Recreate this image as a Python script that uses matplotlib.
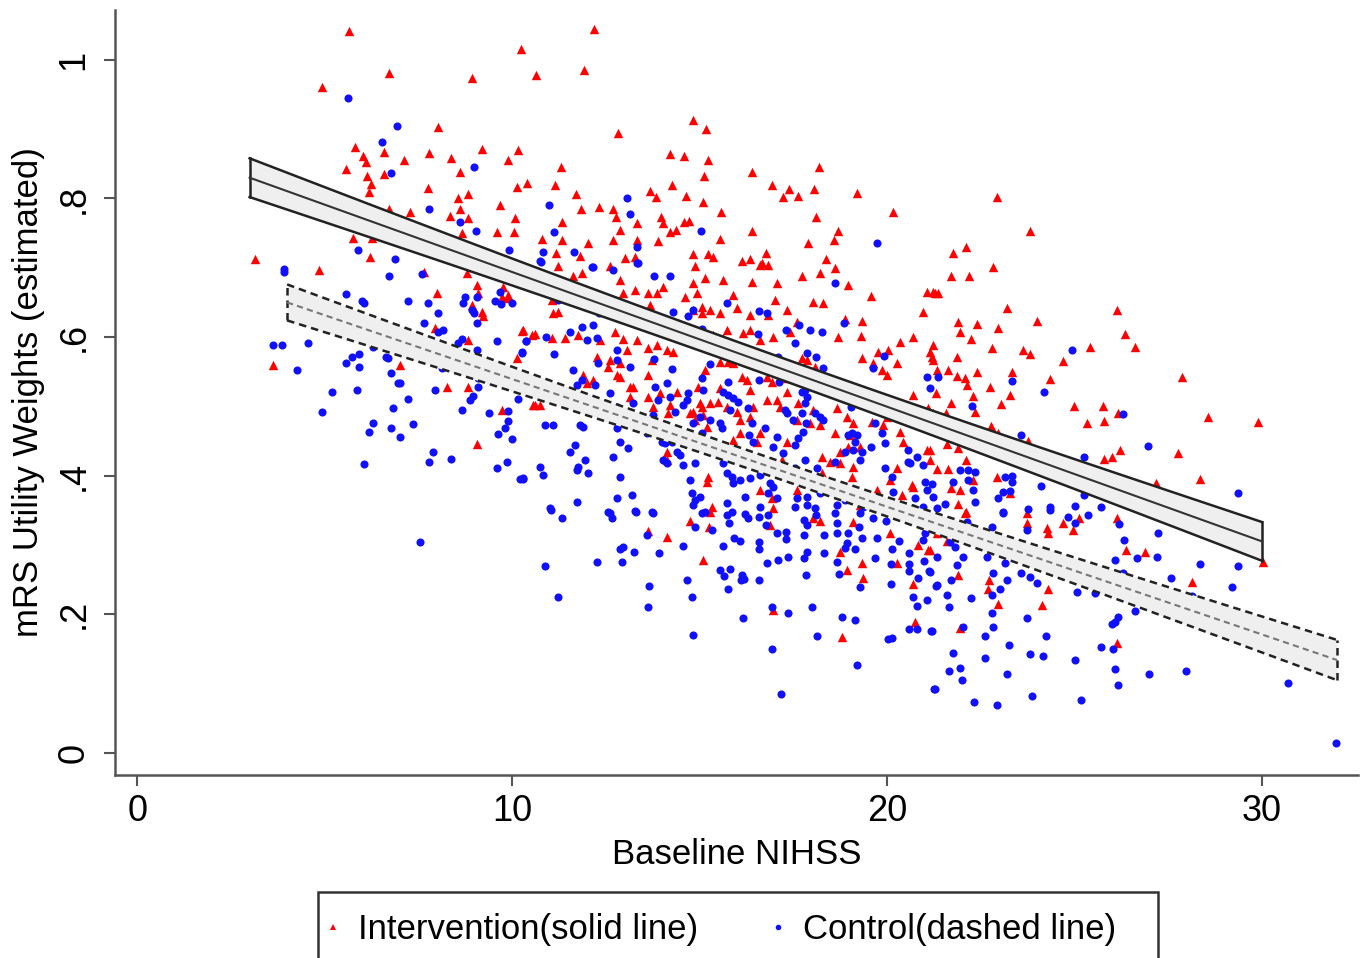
import numpy as np
import matplotlib
matplotlib.use("Agg")
import matplotlib.pyplot as plt
from matplotlib.lines import Line2D
from matplotlib.patches import Rectangle

plt.rcParams['font.family'] = ['Liberation Sans', 'DejaVu Sans']

# (baseline NIHSS, estimated mRS utility weight) per patient
intervention = np.array([
    (5.81, .874), (6.03, .861), (6.11, .853), (6.59, .867), (6.13, .833), (6.24, .821), (6.19, .810),
    (6.59, .835), (5.57, .843), (7.12, .856), (7.79, .866), (8.37, .859), (8.61, .838), (9.20, .872),
    (9.89, .856), (10.16, .870), (7.76, .815), (8.56, .801), (8.83, .807), (8.61, .785), (8.35, .775),
    (8.83, .772), (9.68, .791), (10.08, .772), (10.13, .817), (10.40, .823), (9.60, .752), (10.05, .752),
    (8.67, .750), (7.28, .781), (6.72, .785), (5.76, .743), (6.27, .743), (6.21, .716), (3.15, .713),
    (8.03, .903), (8.93, .974), (10.24, 1.016), (6.72, .981), (4.93, .961), (5.65, 1.042),
    (12.19, 1.045), (10.64, .978), (11.92, .986), (14.83, .913), (15.17, .900), (12.83, .895),
    (14.21, .864), (14.59, .861), (15.23, .856), (15.12, .833), (11.31, .846), (11.15, .820),
    (11.71, .807), (11.84, .785), (12.32, .788), (12.69, .785), (12.77, .773), (11.33, .766),
    (12.88, .755), (13.33, .765), (13.68, .811), (13.84, .802), (14.27, .820), (14.64, .804),
    (15.09, .795), (15.57, .781), (13.97, .773), (14.03, .765), (14.21, .752), (14.37, .755),
    (14.59, .766), (14.72, .768), (16.40, .838), (16.93, .820), (17.23, .802), (17.39, .814),
    (17.63, .804), (18.05, .814), (18.19, .846), (19.20, .808), (20.16, .781), (18.11, .773),
    (16.40, .753), (18.69, .753), (18.59, .740), (17.89, .736), (10.80, .742), (11.33, .740),
    (12.03, .736), (12.69, .740), (13.33, .740), (13.89, .739), (15.55, .742), (11.17, .722),
    (11.81, .717), (13.01, .714), (13.28, .716), (14.83, .720), (15.23, .720), (15.36, .716),
    (16.13, .710), (16.35, .713), (16.77, .722), (16.67, .707), (18.37, .713),
    (22.93, .802), (23.81, .753), (21.76, .722), (22.11, .730),
    (22.83, .701), (21.71, .688), (22.19, .688), (21.23, .665), (21.36, .664), (23.20, .642),
    (24.00, .623), (21.89, .622), (22.40, .619), (22.96, .613), (21.95, .607), (22.24, .597),
    (21.23, .589), (22.80, .584), (23.63, .582), (23.81, .576), (25.41, .586), (26.13, .639),
    (26.35, .605), (26.61, .586), (24.69, .566), (21.20, .571), (21.87, .571), (21.33, .553),
    (21.63, .553), (22.40, .550), (23.33, .550), (21.87, .544), (22.08, .541), (22.13, .531),
    (22.75, .528), (24.35, .540), (27.87, .543), (21.31, .519), (22.29, .515), (23.28, .517),
    (21.71, .505), (23.04, .504), (22.35, .492), (21.57, .491), (24.99, .501), (25.76, .501),
    (25.33, .476), (25.79, .479), (26.16, .491), (28.56, .485), (29.89, .478), (22.77, .472),
    (22.96, .462), (23.76, .450), (21.60, .446), (21.89, .440), (21.15, .437), (22.11, .423),
    (21.33, .410), (21.63, .410), (22.29, .394), (22.93, .398), (21.95, .380), (21.71, .382),
    (23.28, .375), (21.89, .359), (26.21, .437), (25.79, .424), (26.00, .427), (27.76, .433),
    (27.17, .390), (28.35, .395), (22.11, .348),
    (22.08, .346), (23.73, .346), (23.73, .332), (24.27, .325), (24.29, .317), (24.69, .332),
    (24.96, .322), (25.12, .339), (26.13, .339), (21.33, .317), (21.60, .306), (21.15, .293),
    (21.89, .257), (22.72, .250), (22.69, .237), (22.96, .215), (24.29, .237), (24.13, .214),
    (21.95, .180), (26.13, .159), (26.37, .293), (26.88, .290), (28.13, .247), (30.03, .276),
    (11.23, .703), (11.87, .693), (11.63, .688), (12.61, .703), (12.88, .683), (13.28, .668),
    (13.63, .664), (13.87, .664), (14.03, .672), (12.96, .664), (11.07, .654), (11.23, .636),
    (11.09, .635), (13.68, .646), (14.61, .658), (14.83, .678), (14.93, .664), (15.07, .644),
    (15.15, .685), (14.88, .703), (15.63, .683), (15.89, .661), (16.40, .680), (16.61, .704),
    (16.83, .704), (17.07, .678), (17.01, .654), (15.55, .635), (15.28, .639), (15.07, .635),
    (14.83, .639), (16.00, .642), (16.35, .632), (16.83, .632), (17.33, .639), (17.73, .688),
    (18.21, .693), (18.61, .700), (18.96, .675), (18.03, .651), (18.29, .649), (19.57, .659),
    (18.88, .626), (19.33, .623), (19.31, .602), (18.69, .600), (20.35, .593), (20.69, .600),
    (20.96, .636), (21.07, .665), (21.28, .664), (17.60, .622), (17.41, .608), (16.96, .600),
    (16.61, .596), (16.35, .610), (16.16, .606), (15.73, .610), (15.63, .599), (15.36, .603),
    (15.15, .589), (10.29, .610), (10.61, .605), (11.07, .599), (11.41, .599), (11.76, .603),
    (12.75, .608), (12.35, .596), (12.96, .597), (13.33, .596), (13.07, .582), (13.63, .584),
    (13.87, .589), (14.13, .582), (14.29, .579), (13.73, .567), (12.27, .571), (12.56, .557),
    (12.88, .563), (12.80, .545), (12.88, .543), (12.61, .567), (12.16, .538), (13.23, .528),
    (13.63, .545), (15.15, .553), (15.55, .564), (15.76, .564), (15.89, .563), (16.13, .543),
    (16.27, .538), (16.80, .543), (16.93, .535), (17.33, .541), (17.73, .570), (17.87, .567),
    (18.08, .557), (17.81, .553), (16.80, .564), (19.33, .570), (19.63, .563), (19.87, .553),
    (20.00, .545), (20.27, .563), (19.76, .579), (20.03, .582), (21.15, .579), (21.23, .567),
    (20.69, .517), (21.09, .498), (21.23, .491), (20.00, .485), (19.89, .473), (20.35, .463),
    (19.60, .478), (18.67, .498), (18.93, .485), (19.09, .476), (19.01, .459), (18.61, .462),
    (18.21, .473), (18.03, .495), (17.63, .505), (17.33, .521), (17.07, .509), (16.80, .509),
    (16.43, .499), (16.35, .485), (16.08, .481), (16.00, .492), (15.73, .499), (15.28, .505),
    (15.07, .499), (14.75, .491), (14.88, .481), (17.60, .481), (17.95, .476), (18.75, .434),
    (18.96, .442), (19.28, .442), (18.27, .427), (18.48, .420), (18.75, .418), (19.09, .413),
    (19.07, .398), (19.73, .380), (20.27, .411), (20.08, .394), (20.67, .387), (20.40, .372),
    (21.07, .437), (21.15, .423), (17.15, .499), (16.61, .462), (16.53, .449), (16.08, .462),
    (15.89, .452), (15.09, .488), (15.20, .470), (15.01, .505), (16.35, .524), (15.55, .527),
    (14.40, .521), (14.21, .502), (14.16, .491), (13.95, .519), (13.63, .514), (14.96, .528),
    (14.83, .447), (16.08, .434), (17.33, .449), (17.20, .423), (18.27, .404), (20.43, .449),
    (20.80, .481), (15.23, .398), (15.20, .391), (16.61, .380), (16.93, .368), (14.13, .423),
    (14.13, .434), (16.96, .354), (15.33, .355), (17.60, .380), (20.00, .355), (20.69, .384),
    (19.28, .358), (14.83, .492), (15.49, .506), (13.15, .528), (13.15, .514), (10.75, .502),
    (10.61, .502), (12.00, .534), (11.89, .545), (13.76, .499),
    (4.85, .697), (7.65, .694), (8.80, .693), (8.00, .664), (9.07, .675), (9.09, .664),
    (8.93, .646), (9.20, .636), (9.23, .631), (9.76, .672), (9.73, .658), (9.89, .661),
    (9.89, .657), (10.27, .609), (10.53, .603), (7.95, .613), (8.83, .596), (10.13, .570),
    (3.63, .560), (7.01, .560), (8.27, .528), (8.83, .528), (9.73, .495), (10.56, .502),
    (9.07, .446),
    (14.75, .335), (15.28, .348), (15.25, .326), (13.63, .320), (14.13, .312), (15.09, .279),
    (16.88, .329), (18.21, .335), (18.03, .339), (19.09, .333), (20.08, .317), (20.83, .300),
    (21.09, .293), (18.75, .290), (18.93, .264), (19.33, .274), (19.36, .253), (20.27, .274),
    (20.69, .244), (16.96, .206), (20.75, .189), (18.80, .167),
])

control = np.array([
    (5.63, .945), (6.93, .905), (6.53, .882), (6.77, .837), (8.99, .846), (7.79, .785), (8.61, .766),
    (9.04, .753), (9.92, .726), (5.89, .726), (6.88, .713), (3.92, .698),
    (10.99, .791), (13.07, .801), (13.15, .778), (11.12, .752), (10.83, .723), (10.75, .710),
    (11.65, .723), (12.13, .701), (13.33, .730), (13.33, .707), (15.04, .753), (19.73, .736),
    (24.93, .582), (23.33, .537), (24.19, .521), (22.27, .501), (26.29, .489), (23.57, .459),
    (25.25, .427), (26.96, .443), (29.36, .375), (21.95, .408), (22.16, .408), (22.35, .405),
    (22.16, .394), (23.33, .400), (23.15, .398), (23.33, .391), (24.11, .385), (21.76, .391),
    (21.20, .388), (22.29, .380), (22.35, .362), (23.09, .377), (23.28, .378), (22.96, .368),
    (21.55, .359), (21.23, .369), (21.33, .354), (23.76, .352), (24.35, .355), (25.01, .356),
    (25.25, .372), (25.71, .355), (25.36, .343), (24.83, .341), (23.09, .348),
    (23.09, .346), (24.35, .351), (25.01, .332), (26.19, .330), (27.23, .317), (26.32, .307),
    (22.80, .326), (23.73, .322), (22.13, .333), (21.68, .304), (21.81, .297), (22.03, .283),
    (21.33, .283), (22.67, .283), (23.15, .274), (21.87, .271), (21.15, .261), (22.83, .260),
    (23.57, .260), (23.81, .254), (24.00, .245), (21.33, .242), (21.71, .250), (23.20, .250),
    (23.01, .237), (22.80, .228), (21.60, .228), (22.24, .224), (25.07, .232), (25.55, .231),
    (26.08, .278), (26.29, .260), (26.67, .281), (27.20, .283), (27.57, .253), (28.35, .273),
    (29.36, .270), (29.20, .240), (28.13, .227), (26.61, .205), (21.65, .211), (22.80, .202),
    (23.73, .195), (21.20, .176), (22.83, .182), (22.61, .169), (24.24, .169), (23.25, .156),
    (26.08, .189), (26.16, .196), (26.00, .186), (25.71, .153), (26.03, .150), (21.76, .144),
    (22.61, .137), (23.81, .143), (24.16, .140), (25.01, .134), (21.65, .118), (21.95, .123),
    (22.00, .105), (23.20, .114), (26.08, .121), (26.99, .114), (27.97, .118), (26.16, .098),
    (21.28, .092), (22.32, .074), (22.93, .069), (23.87, .082), (25.17, .076), (30.69, .101),
    (31.97, .014), (22.03, .182),
    (11.04, .351), (11.33, .339), (12.61, .346), (12.67, .339), (13.31, .348), (13.76, .346),
    (15.15, .348), (15.73, .343), (15.79, .332), (16.21, .345), (16.29, .339), (16.59, .341),
    (16.83, .343), (16.77, .329), (17.79, .336), (17.87, .329), (18.11, .343), (18.61, .346),
    (18.67, .332), (19.28, .346), (19.25, .326), (19.63, .339), (19.97, .335), (21.01, .317),
    (20.96, .307), (13.60, .315), (14.88, .326), (15.33, .322), (12.88, .294), (12.96, .297),
    (13.25, .290), (13.92, .289), (14.56, .299), (15.63, .299), (15.92, .310), (16.08, .306),
    (16.59, .304), (16.59, .294), (17.07, .317), (17.31, .319), (17.31, .309), (17.79, .315),
    (17.87, .290), (18.32, .315), (18.67, .317), (18.96, .317), (18.93, .303), (18.88, .296),
    (19.15, .294), (19.33, .310), (19.73, .310), (20.13, .294), (20.32, .306), (20.59, .289),
    (18.32, .289), (10.88, .270), (12.27, .276), (12.93, .276), (16.80, .274), (17.09, .278),
    (17.36, .283), (17.79, .281), (18.67, .276), (19.68, .281), (20.11, .273), (20.59, .273),
    (20.99, .277), (21.12, .263), (15.55, .264), (15.81, .266), (15.65, .255), (16.13, .257),
    (16.19, .251), (16.59, .250), (16.11, .250), (18.72, .258), (17.84, .257), (14.67, .250),
    (13.65, .241), (15.76, .237), (19.28, .240), (20.11, .244), (20.59, .263), (20.83, .253),
    (21.31, .241), (20.69, .225), (20.80, .212), (21.07, .221), (11.23, .225), (13.63, .211),
    (14.80, .225), (16.93, .211), (17.36, .202), (18.00, .211), (16.16, .195), (18.80, .196),
    (19.15, .192), (20.59, .179), (20.80, .179), (21.17, .176), (20.03, .165), (20.13, .166),
    (14.83, .170), (18.13, .169), (16.93, .150), (19.20, .127), (17.17, .085), (21.25, .092),
    (7.55, .304),
    (3.92, .694), (6.72, .688), (7.60, .691), (5.57, .662), (6.00, .652), (6.05, .649),
    (7.23, .652), (7.76, .649), (8.03, .634), (7.65, .621), (8.16, .610), (8.03, .608),
    (8.75, .658), (8.69, .649), (9.07, .658), (8.93, .639), (8.99, .635), (9.07, .621),
    (9.55, .652), (9.68, .665), (9.71, .648), (10.00, .649), (8.67, .597), (8.56, .592),
    (9.60, .595), (10.37, .595), (10.27, .577), (9.07, .582), (3.63, .589), (3.87, .589),
    (4.56, .592), (6.29, .586), (4.27, .553), (5.57, .563), (5.73, .571), (5.92, .576),
    (5.92, .557), (6.64, .571), (6.69, .570), (6.77, .548), (6.96, .534), (7.01, .534),
    (8.13, .556), (9.09, .541), (8.96, .515), (8.88, .509), (9.09, .528), (10.16, .511),
    (7.95, .524), (7.23, .511), (5.20, .521), (5.87, .524), (6.83, .498), (4.93, .492),
    (8.67, .495), (9.39, .491), (9.89, .494), (9.89, .479), (9.81, .469), (9.63, .460),
    (10.00, .453), (6.29, .476), (6.19, .463), (6.77, .469), (7.01, .456), (7.36, .475),
    (7.89, .434), (7.79, .420), (8.37, .424), (6.05, .417), (9.60, .411), (9.87, .420),
    (10.21, .395), (10.29, .395),
    (10.77, .709), (12.16, .701), (12.69, .697), (13.36, .707), (13.79, .688), (14.21, .688),
    (18.61, .678), (15.73, .649), (16.59, .638), (16.80, .635), (14.83, .639), (14.69, .631),
    (14.29, .636), (11.23, .654), (12.32, .635), (11.55, .608), (11.87, .615), (12.16, .618),
    (12.00, .596), (12.27, .599), (10.91, .600), (10.37, .595), (10.27, .579), (11.12, .576),
    (12.80, .582), (12.80, .567), (13.15, .557), (12.29, .563), (11.63, .553), (11.87, .538),
    (11.73, .531), (12.21, .531), (12.61, .519), (14.27, .554), (13.79, .569), (15.07, .612),
    (15.28, .561), (15.07, .541), (15.76, .535), (16.56, .605), (17.09, .571), (17.07, .560),
    (16.59, .538), (17.12, .535), (17.31, .610), (17.55, .592), (17.65, .618), (17.95, .610),
    (18.27, .608), (18.85, .620), (17.87, .577), (18.11, .571), (18.29, .556), (19.92, .573),
    (19.63, .556), (21.07, .543), (13.81, .528), (14.13, .534), (14.21, .514), (13.89, .509),
    (14.35, .492), (14.67, .509), (14.56, .502), (14.69, .519), (15.09, .524), (15.63, .521),
    (15.76, .517), (15.89, .512), (16.03, .506), (15.81, .495), (16.29, .498), (15.01, .485),
    (15.28, .481), (15.55, .476), (15.60, .469), (16.40, .476), (16.32, .459), (16.43, .449),
    (16.75, .469), (17.07, .456), (16.96, .442), (17.23, .433), (17.33, .491), (17.28, .495),
    (17.49, .481), (17.73, .521), (17.81, .524), (17.87, .514), (17.81, .505), (17.73, .491),
    (17.84, .476), (17.76, .463), (17.63, .455), (17.55, .444), (18.21, .485), (18.08, .491),
    (18.29, .481), (17.81, .423), (18.13, .411), (18.61, .420), (18.96, .459), (19.07, .462),
    (19.20, .459), (19.15, .449), (19.09, .437), (19.33, .434), (19.28, .423), (18.88, .434),
    (19.57, .442), (19.68, .476), (19.87, .462), (19.95, .447), (19.04, .499), (20.56, .437),
    (20.61, .418), (20.96, .416), (21.01, .391), (21.07, .380), (20.75, .368), (19.95, .411),
    (20.13, .398), (18.03, .390), (18.21, .375), (17.87, .369), (17.60, .368), (18.61, .375),
    (18.67, .358), (19.36, .355), (18.88, .365), (16.88, .390), (16.96, .384), (16.83, .375),
    (17.07, .368), (16.61, .355), (15.89, .390), (15.73, .404), (15.87, .398), (16.08, .394),
    (16.35, .397), (16.61, .401), (16.56, .418), (15.63, .418), (14.88, .418), (14.56, .416),
    (14.75, .394), (15.01, .369), (14.88, .365), (14.83, .358), (15.73, .361), (15.87, .348),
    (16.21, .369), (15.07, .346), (14.40, .434), (14.27, .449), (14.08, .447), (13.95, .463),
    (14.48, .430), (14.13, .418), (14.83, .476), (15.36, .449), (15.55, .434), (15.07, .462),
    (12.80, .499), (12.88, .481), (13.15, .492), (13.23, .505), (13.76, .488), (13.33, .470),
    (13.87, .473), (13.60, .462), (14.00, .449), (14.13, .456), (10.88, .473), (11.09, .473),
    (11.81, .473), (11.89, .470), (12.80, .469), (12.88, .449), (13.09, .440), (11.68, .444),
    (11.55, .434), (11.95, .423), (10.75, .413), (10.83, .401), (11.73, .408), (12.03, .404),
    (11.76, .413), (10.29, .397), (12.69, .427), (12.88, .398), (12.80, .368), (13.20, .372),
    (11.01, .354), (11.73, .362), (12.56, .348), (13.28, .349), (13.73, .348), (14.03, .423),
    (14.80, .375), (17.41, .397), (17.55, .411), (20.16, .377), (20.69, .354), (20.96, .355),
    (17.55, .355), (18.08, .354), (17.87, .358), (20.56, .420), (20.80, .427), (21.15, .527),
    (21.36, .543),
])

# linear fits with 95% CI: intercept, slope, x range, CI half-width at xbar, slope of CI growth
int_fit = dict(b0=0.8883, b1=-0.01944, xmin=3, xmax=30, xbar=16.5, se0=0.016, se1=0.0017)
ctl_fit = dict(b0=0.7237, b1=-0.01843, xmin=4, xmax=32, xbar=17.0, se0=0.013, se1=0.00173)

W, H = 1361, 958
fig = plt.figure(figsize=(W / 100, H / 100), dpi=100)
ax = fig.add_axes([0.0845, 0.191, 0.9133, 0.7986])

ax.scatter(intervention[:, 0], intervention[:, 1], marker='^', s=46, color='#ff0000',
           linewidths=0, zorder=2)
ax.scatter(control[:, 0], control[:, 1], marker='o', s=34, color='#1010ff',
           linewidths=0, zorder=3)


def draw_band(fit, ls, mid_color):
    xs = np.linspace(fit['xmin'], fit['xmax'], 100)
    yc = fit['b0'] + fit['b1'] * xs
    hw = np.sqrt(fit['se0'] ** 2 + (fit['se1'] * (xs - fit['xbar'])) ** 2)
    lo, hi = yc - hw, yc + hw
    ax.fill_between(xs, lo, hi, color='#efefef', lw=0, zorder=4)
    kw = dict(color='#222222', lw=1.8, ls=ls, zorder=5)
    ax.plot(xs, hi, **kw)
    ax.plot(xs, lo, **kw)
    ax.plot([xs[0], xs[0]], [lo[0], hi[0]], **kw)
    ax.plot([xs[-1], xs[-1]], [lo[-1], hi[-1]], **kw)
    ax.plot(xs, yc, color=mid_color, lw=1.5, ls=ls, zorder=5)


draw_band(int_fit, '-', '#333333')
draw_band(ctl_fit, (0, (3, 2)), '#777777')

ax.set_xlim(-0.59, 32.56)
ax.set_ylim(-0.032, 1.072)
ax.set_xticks([0, 10, 20, 30])
ax.set_yticks([0, 0.2, 0.4, 0.6, 0.8, 1.0])
ax.set_yticklabels(['0', '.2', '.4', '.6', '.8', '1'], rotation=90, va='center')

for side in ['top', 'right']:
    ax.spines[side].set_visible(False)
for side in ['left', 'bottom']:
    ax.spines[side].set_color('#555555')
    ax.spines[side].set_linewidth(1.8)
ax.tick_params(axis='both', direction='out', length=8, width=1.5, color='#555555',
               labelsize=26, labelcolor='black')
ax.tick_params(axis='y', pad=9)
ax.tick_params(axis='x', pad=6)

ax.set_xlabel('Baseline NIHSS', fontsize=25, labelpad=6)
ax.set_ylabel('mRS Utility Weights (estimated)', fontsize=25, labelpad=8)

# legend box below the plot, running past the bottom edge of the figure
fig.patches.append(Rectangle((318 / W, 1 - 975 / H), 840 / W, 83 / H,
                             transform=fig.transFigure, fill=False,
                             edgecolor='#333333', lw=1.8))
handles = [
    Line2D([], [], ls='none', marker='^', ms=5, color='#ff0000', mew=0),
    Line2D([], [], ls='none', marker='o', ms=4, color='#1010ff', mew=0),
]
fig.legend(handles, ['Intervention(solid line)', 'Control(dashed line)'],
           loc='center left', bbox_to_anchor=(322.6 / W, 1 - 930 / H), ncol=2,
           fontsize=25, frameon=False, handlelength=0.6, handletextpad=0.42,
           columnspacing=2.0, borderpad=0, borderaxespad=0)

fig.savefig('out.png', dpi=100)
